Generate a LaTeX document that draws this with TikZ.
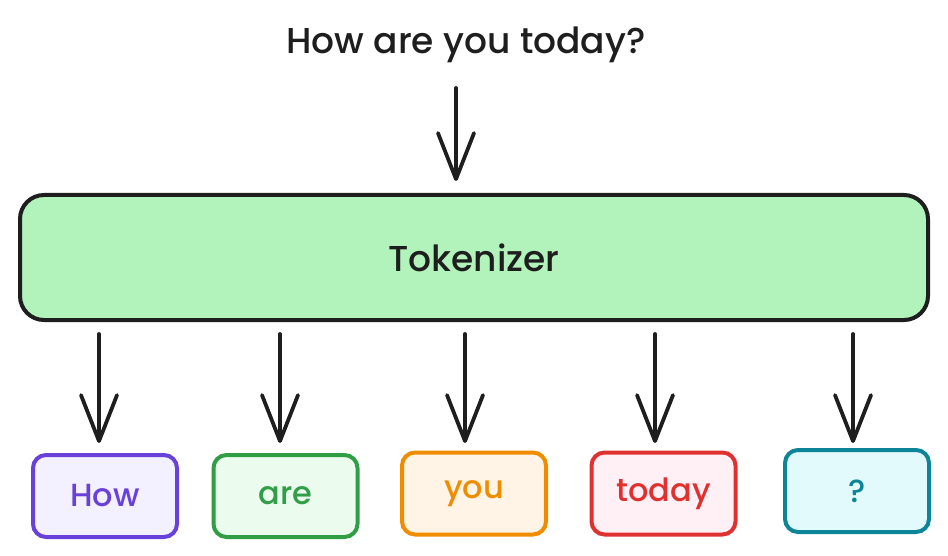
\documentclass[tikz,border=0pt]{standalone}
\usepackage{fontspec}
\setmainfont{Poppins Medium}
\usetikzlibrary{arrows.meta}
\definecolor{tokfill}{HTML}{B2F2BB}
\definecolor{purp}{HTML}{6741D9}\definecolor{purpf}{HTML}{F3F0FF}
\definecolor{grn}{HTML}{2F9E44}\definecolor{grnf}{HTML}{EBFBEE}
\definecolor{org}{HTML}{F08C00}\definecolor{orgf}{HTML}{FFF4E6}
\definecolor{rd}{HTML}{E03131}\definecolor{rdf}{HTML}{FFF0F6}
\definecolor{tl}{HTML}{0C8599}\definecolor{tlf}{HTML}{E3FAFC}
\definecolor{ink}{HTML}{1E1E1E}
\begin{document}
\begin{tikzpicture}[x=1pt,y=-1pt,
  arr/.style={draw=ink,line width=3.8pt,line cap=round,-{Straight Barb[length=46pt,width=36pt,line width=3.8pt,round]}},
  tok/.style={draw,line width=4pt,rounded corners=13pt,minimum width=144pt,minimum height=82pt,font=\fontsize{32}{36}\selectfont,inner sep=0pt}]
\useasboundingbox (0,0) rectangle (948,556);
\node[font=\fontsize{36}{40}\selectfont,text=ink] (in) at (466,45) {How are you today?};
\node[draw=ink,fill=tokfill,line width=4pt,rounded corners=24pt,minimum width=908pt,minimum height=125pt,font=\fontsize{36}{40}\selectfont,text=ink] (tk) at (474,257.5) {Tokenizer};
\coordinate (a0) at (456,88);
\draw[arr] (a0) -- ([yshift=12pt]tk.north -| a0);
\node[tok,draw=purp,fill=purpf,text=purp] (t1) at (105,496) {How};
\node[tok,draw=grn,fill=grnf,text=grn] (t2) at (285.5,496) {are};
\node[tok,draw=org,fill=orgf,text=org] (t3) at (474,493.5) {you};
\node[tok,draw=rd,fill=rdf,text=rd] (t4) at (663.5,493.5) {today};
\node[tok,draw=tl,fill=tlf,text=tl] (t5) at (857,491) {?};
\foreach \i/\x in {1/99,2/280,3/465,4/655,5/853}{
  \coordinate (s\i) at (\x,334);
  \coordinate (e\i) at (\x,443);
  \draw[arr] (s\i) -- (e\i);
}
\end{tikzpicture}
\end{document}
